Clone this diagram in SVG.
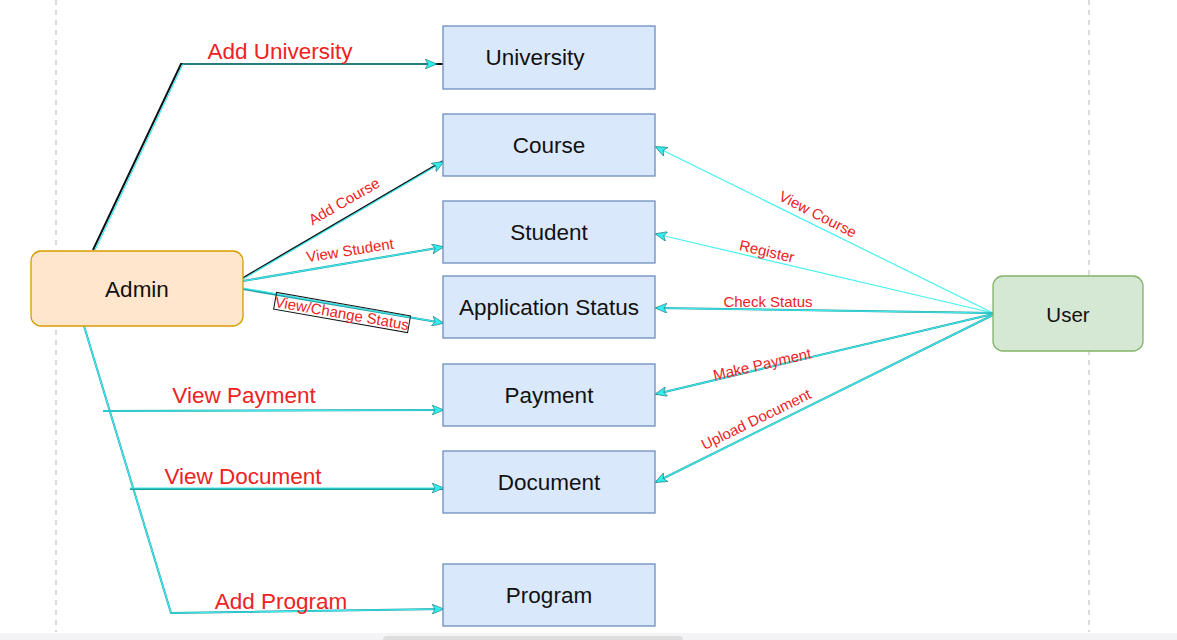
<svg xmlns="http://www.w3.org/2000/svg" width="1177" height="640" viewBox="0 0 1177 640">
<style>
.box{fill:#dae8fc;stroke:#6c8ebf;stroke-width:1.3}
.t{font-family:"Liberation Sans",Arial,sans-serif;fill:#111;text-anchor:middle;dominant-baseline:central}
.lbl{font-family:"Liberation Sans",Arial,sans-serif;fill:#ee2222;text-anchor:middle;dominant-baseline:central}
.dark{fill:none;stroke:#22a0a0;stroke-width:2}
.blk{fill:none;stroke:#111;stroke-width:2}
.cy{fill:none;stroke:#3ee8ee;stroke-width:1.2}
.thin{fill:none;stroke:#44f2f2;stroke-width:1.2}
</style>
<defs>
<marker id="ar" viewBox="0 0 12 10" refX="11" refY="5" markerWidth="12" markerHeight="10" markerUnits="userSpaceOnUse" orient="auto">
<path d="M0,0 L12,5 L0,10 L3,5 Z" fill="#33eef0" stroke="#1a6f6f" stroke-width="0.6"/>
</marker>
</defs>
<rect width="1177" height="640" fill="#fff"/>
<line x1="56" y1="0" x2="56" y2="632" stroke="#c8c8c8" stroke-width="1.3" stroke-dasharray="5,5"/>
<line x1="1089" y1="0" x2="1089" y2="632" stroke="#c8c8c8" stroke-width="1.3" stroke-dasharray="5,5"/>
<g id="connectors">
<polyline class="blk" points="93,250 181,64 443,64"/>
<polyline class="cy" points="95,250 183,64 436,64" marker-end="url(#ar)"/>
<line class="blk" x1="243" y1="278" x2="443" y2="161"/>
<line class="cy" x1="243" y1="279" x2="443" y2="162" marker-end="url(#ar)"/>
<line class="dark" x1="243" y1="281" x2="443" y2="247"/>
<line class="cy" x1="243" y1="281" x2="443" y2="247" marker-end="url(#ar)"/>
<line class="dark" x1="243" y1="289" x2="443" y2="323"/>
<line class="cy" x1="243" y1="288" x2="443" y2="323" marker-end="url(#ar)"/>
<polyline class="dark" points="84,326 171,613 443,609"/>
<polyline class="cy" points="84,326 171,613 443,609" marker-end="url(#ar)"/>
<line class="dark" x1="103" y1="411" x2="443" y2="410"/>
<line class="cy" x1="103" y1="411" x2="443" y2="410" marker-end="url(#ar)"/>
<line class="dark" x1="130" y1="489" x2="443" y2="489"/>
<line class="cy" x1="130" y1="488" x2="443" y2="488" marker-end="url(#ar)"/>
<line class="thin" x1="993" y1="313" x2="656" y2="147" marker-end="url(#ar)"/>
<line class="thin" x1="993" y1="313" x2="656" y2="234" marker-end="url(#ar)"/>
<line class="dark" x1="993" y1="313" x2="656" y2="308"/>
<line class="cy" x1="993" y1="313" x2="656" y2="308" marker-end="url(#ar)"/>
<line class="dark" x1="993" y1="314" x2="656" y2="394"/>
<line class="cy" x1="993" y1="314" x2="656" y2="394" marker-end="url(#ar)"/>
<line class="dark" x1="993" y1="315" x2="656" y2="482"/>
<line class="cy" x1="993" y1="315" x2="656" y2="482" marker-end="url(#ar)"/>
<text class="lbl" x="280" y="51" font-size="22.5">Add University</text>
<text class="lbl" x="244" y="395" font-size="22.5">View Payment</text>
<text class="lbl" x="243" y="476" font-size="22.5">View Document</text>
<text class="lbl" x="281" y="601" font-size="22.5">Add Program</text>
<text class="lbl" font-size="15" transform="translate(344,201) rotate(-30)">Add Course</text>
<text class="lbl" font-size="15" transform="translate(350,250) rotate(-9)">View Student</text>
<g transform="translate(342,313) rotate(10)">
<rect x="-68" y="-9" width="136" height="17" fill="none" stroke="#111" stroke-width="1"/>
<text class="lbl" font-size="15" x="0" y="0">View/Change Status</text>
</g>
<text class="lbl" font-size="15" transform="translate(818,214) rotate(27)">View Course</text>
<text class="lbl" font-size="15" transform="translate(767,251) rotate(13)">Register</text>
<text class="lbl" font-size="15" x="768" y="301">Check Status</text>
<text class="lbl" font-size="15" transform="translate(762,364) rotate(-13)">Make Payment</text>
<text class="lbl" font-size="15" transform="translate(756,419) rotate(-26)">Upload Document</text>
</g>
<g id="admin"><rect x="31" y="251" width="212" height="75" rx="10" fill="#ffe6cc" stroke="#d79b00" stroke-width="1.3"/><text class="t" x="137" y="289" font-size="22.5">Admin</text></g>
<g id="user"><rect x="993" y="276" width="150" height="75" rx="10" fill="#d5e8d4" stroke="#82b366" stroke-width="1.3"/><text class="t" x="1068" y="314" font-size="20.5">User</text></g>
<g id="university"><rect class="box" x="443" y="26" width="212" height="63"/><text class="t" x="535" y="57" font-size="22.5">University</text></g>
<g id="course"><rect class="box" x="443" y="114" width="212" height="62"/><text class="t" x="549" y="145" font-size="22.5">Course</text></g>
<g id="student"><rect class="box" x="443" y="201" width="212" height="62"/><text class="t" x="549" y="232" font-size="22.5">Student</text></g>
<g id="appstatus"><rect class="box" x="443" y="276" width="212" height="62"/><text class="t" x="549" y="307" font-size="22.5">Application Status</text></g>
<g id="payment"><rect class="box" x="443" y="364" width="212" height="62"/><text class="t" x="549" y="395" font-size="22.5">Payment</text></g>
<g id="document"><rect class="box" x="443" y="451" width="212" height="62"/><text class="t" x="549" y="482" font-size="22.5">Document</text></g>
<g id="program"><rect class="box" x="443" y="564" width="212" height="62"/><text class="t" x="549" y="595" font-size="22.5">Program</text></g>
<rect x="0" y="633" width="1177" height="7" fill="#f4f4f6"/>
<rect x="383" y="636" width="300" height="8" rx="4" fill="#dedede"/>
</svg>
